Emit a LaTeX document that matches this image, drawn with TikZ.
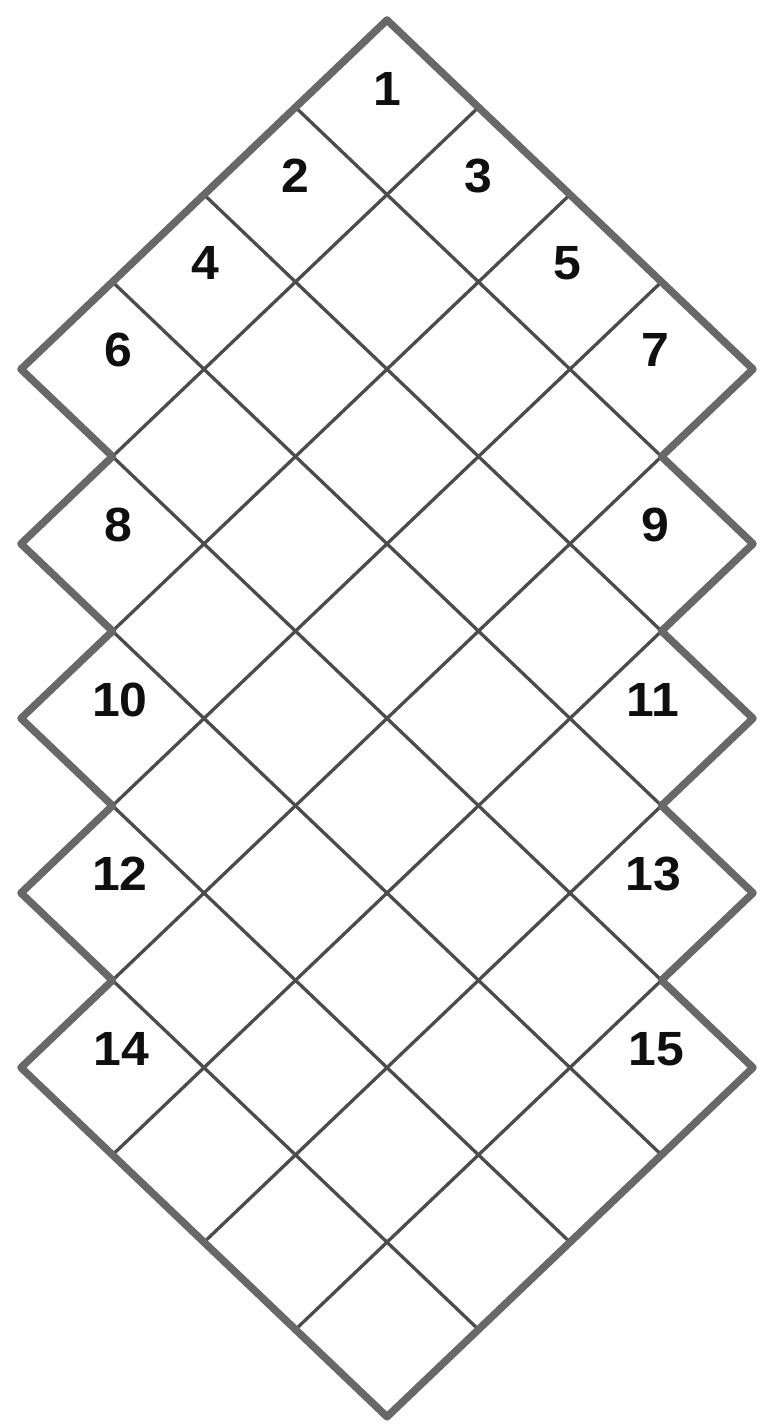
\documentclass[tikz,border=0pt]{standalone}
\usepackage{fontspec}
\setmainfont{Liberation Sans}
\definecolor{bordergray}{RGB}{104,104,104}
\definecolor{linegray}{RGB}{76,76,76}
\definecolor{txt}{RGB}{15,15,15}
\begin{document}
\begin{tikzpicture}[x=91.5pt,y=-87.3pt,
  gridline/.style={draw=linegray,line width=3.3pt},
  outline/.style={draw=bordergray,line width=7.5pt,line join=round},
  lbl/.style={text=txt,font=\fontsize{48}{52}\selectfont\bfseries,inner sep=0pt,xscale=1.04}]
\useasboundingbox[fill=white] (-4.2295,-0.2291) rectangle (4.0656,16.094);
% grid lines of constant a (running down-right)
\foreach \k in {1,...,7} {
  \pgfmathtruncatemacro\bs{max(0,\k-3)}
  \pgfmathtruncatemacro\be{min(8,\k+3)}
  \draw[gridline] ({\bs-\k},{\k+\bs}) -- ({\be-\k},{\k+\be});
}
% grid lines of constant b (running down-left)
\foreach \k in {1,...,7} {
  \pgfmathtruncatemacro\as{max(0,\k-3)}
  \pgfmathtruncatemacro\ae{min(8,\k+3)}
  \draw[gridline] ({\k-\as},{\as+\k}) -- ({\k-\ae},{\ae+\k});
}
% outer border
\draw[outline] (0,0) -- (-4,4) -- (-3,5) -- (-4,6) -- (-3,7) -- (-4,8) -- (-3,9)
  -- (-4,10) -- (-3,11) -- (-4,12) -- (0,16) -- (4,12) -- (3,11) -- (4,10) -- (3,9)
  -- (4,8) -- (3,7) -- (4,6) -- (3,5) -- (4,4) -- cycle;
% labels
\foreach \t/\a/\b/\dx in {1/0/0/0, 2/1/0/0, 3/0/1/0, 4/2/0/0.02, 5/0/2/-0.03,
  6/3/0/0.06, 7/0/3/-0.07, 8/4/1/0.06, 9/1/4/-0.07, 10/5/2/0.08, 11/2/5/-0.09,
  12/6/3/0.08, 13/3/6/-0.09, 14/7/4/0.1, 15/4/7/-0.06} {
  \node[lbl] (l\t) at ({\b-\a+\dx},{\a+\b+1-0.215}) {\t};
}
\end{tikzpicture}
\end{document}
